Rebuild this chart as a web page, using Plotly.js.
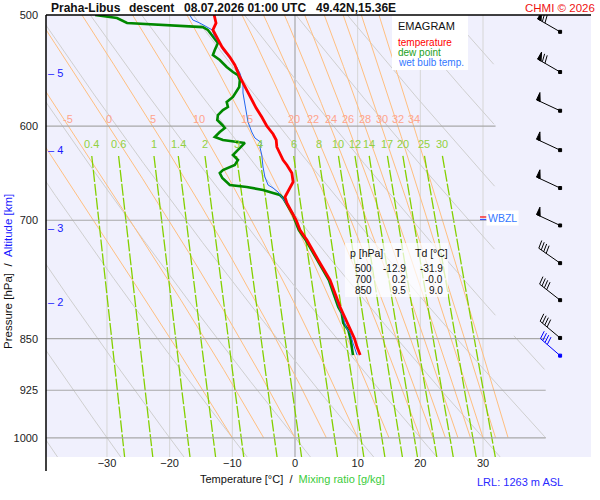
<!DOCTYPE html>
<html><head><meta charset="utf-8">
<script src="https://cdn.plot.ly/plotly-3.0.1.min.js"></script>
<style>html,body{margin:0;padding:0;background:#fff}</style>
</head><body><div id="chart" style="width:600px;height:500px"></div>
<script>
// ---------------- data ----------------
const tempP = [500, 506.6, 512.4, 518.4, 526.9, 535.6, 542.7, 553.5, 562.6, 571.9, 582.4, 591.0, 599.8, 607.7, 613.7, 620.8, 626.9, 634.2, 639.4, 647.8, 657.5, 664.0, 670.5, 673.8, 680.5, 691.7, 700, 711.3, 723.0, 747.1, 772.1, 807.0, 828.5, 847.7, 850, 861.8, 873.2];
const tempT = [-12.9, -12.6, -13.1, -12.45, -11.65, -10.4, -9.6, -8.8, -8.0, -7.2, -6.2, -5.3, -4.5, -3.5, -3.0, -2.9, -2.4, -1.9, -1.3, -0.5, -0.3, -0.8, -1.4, -1.6, -1.3, -0.5, 0.2, 0.8, 1.9, 3.7, 5.6, 7.2, 8.3, 9.3, 9.5, 9.9, 10.4];

const dewP = [500, 502.5, 506.6, 507.4, 508.3, 509.1, 510.0, 512.4, 518.4, 523.5, 529.5, 533.9, 538.3, 544.5, 549.0, 551.7, 556.2, 562.6, 571.9, 576.6, 581.4, 584.3, 589.1, 593.9, 598.8, 601.8, 605.7, 610.7, 613.7, 615.7, 616.7, 623.8, 629.0, 634.2, 639.4, 644.7, 647.8, 653.2, 660.7, 662.9, 666.1, 669.4, 671.6, 674.9, 685.0, 694.0, 700, 711.3, 723.0, 747.1, 772.1, 807.0, 815.0, 828.5, 838.0, 851.9, 866.0, 873.2];
const dewT = [-31.9, -28.4, -26.8, -24.3, -21.5, -17.9, -14.7, -13.9, -13.1, -12.3, -12.8, -13.1, -12.0, -10.9, -9.9, -9.1, -8.8, -8.9, -9.9, -10.9, -10.7, -11.5, -12.3, -12.4, -11.6, -11.2, -12.0, -12.8, -11.5, -9.3, -8.0, -9.1, -9.9, -9.1, -9.6, -11.5, -12.0, -11.6, -10.4, -7.7, -5.1, -3.5, -2.4, -1.9, -1.1, -0.3, 0.0, 0.6, 1.7, 3.5, 5.4, 6.9, 7.45, 7.7, 8.5, 8.9, 9.1, 9.25];

const wetP = [500, 504.1, 506.6, 510.0, 512.4, 518.4, 523.5, 529.5, 536.5, 544.5, 549.9, 559.0, 568.2, 577.6, 591.0, 595.8, 605.7, 611.7, 616.7, 620.8, 629.0, 641.5, 652.1, 660.7, 664.0, 668.3, 673.8, 685.0, 694.0, 700, 711.3, 723.0, 747.1, 772.1, 807.0, 820.4, 834.0, 842.2, 856.1, 873.2];
const wetT = [-16.8, -16.3, -15.2, -14.0, -13.2, -12.8, -12.0, -11.5, -10.4, -9.3, -8.8, -8.3, -8.3, -8.0, -7.7, -7.5, -6.9, -6.4, -5.3, -5.6, -5.3, -5.1, -4.8, -4.3, -3.5, -2.7, -2.1, -1.0, -0.2, 0.1, 0.7, 1.8, 3.6, 5.5, 7.0, 7.7, 8.1, 8.8, 9.25, 9.9];

const windP   = [514, 549, 585, 624, 664, 706, 751, 798, 849, 874];
const windDir = [300, 300, 295, 295, 295, 295, 305, 308, 310, 311];
const windSpd = [70, 70, 50, 50, 50, 50, 40, 40, 40, 40];

const tempTicks = [-30, -20, -10, 0, 10, 20, 30];
const pressureTicks = [500, 600, 700, 850, 925, 1000];
const isotherms = [-30, -20, -10, 0, 10, 20, 30];
const isobars = [600, 700, 850, 925, 1000];
const dryTheta = [-40, -30, -20, -10, 0, 10, 20, 30, 40, 50, 60, 70, 80, 90, 100];
const moistThetaW = [-10, -5, 0, 5, 10, 15, 20, 22, 24, 26, 28, 30, 32, 34];
const moistLabels = [-5, 0, 5, 10, 15, 20, 22, 24, 26, 28, 30, 32, 34];
const mixRatios = [0.4, 0.6, 1, 1.4, 2, 3, 4, 6, 8, 10, 12, 14, 17, 20, 25, 30];
const altKm = [5, 4, 3, 2];
const altP = [550, 624, 709, 800];
const tableP = [500, 700, 850];
const tableT = [-12.9, 0.2, 9.5];
const tableTd = [-31.9, -0.0, 9.0];
const wbzlP = 698;
const lrlM = 1263;

// ---------------- geometry / style ----------------
const W = 600, H = 500, ML = 46, MR = 9, MT = 15, MB = 43;
const plotW = W - ML - MR, plotH = H - MT - MB;
const px2x = px => (px - ML) / plotW;
const py2y = py => 1 - (py - MT) / plotH;
const pBottom = 1032, pTop = 500;
const xRange = [-39.73, 47.23];
const barbX = 42.3;
const FONT = 'Liberation Sans, Arial, sans-serif';

function limitT(p) { return p < 845 ? 32 : 40; }
function es(Tc) { return 6.112 * Math.exp(17.67 * Tc / (Tc + 243.5)); }
function rsat(p, Tc) { const e = es(Tc); return 0.622 * e / (p - e); }
function mixT(w, p) { const e = w * p / (622 + w); const Lg = Math.log(e / 6.112); return 243.5 * Lg / (17.67 - Lg); }
function dTdp(p, T) {
  const r = rsat(p, T - 273.15), Rd = 287.04, Lv = 2.501e6, cp = 1005.7;
  return (Rd * T + Lv * r) / (p * (cp + Lv * Lv * r * 0.622 / (Rd * T * T)));
}
function moistCurve(thw) {
  let T = thw + 273.15; const P = [], Ts = [];
  const h = -2;
  for (let p = 1000; p >= pTop - 0.01; p += h) {
    P.push(p); Ts.push(T - 273.15);
    const k1 = dTdp(p, T), k2 = dTdp(p + h / 2, T + h / 2 * k1), k3 = dTdp(p + h / 2, T + h / 2 * k2), k4 = dTdp(p + h, T + h * k3);
    T += h / 6 * (k1 + 2 * k2 + 2 * k3 + k4);
  }
  return {P, T: Ts};
}

function family(list) {
  const xs = [], ys = [];
  list.forEach(c => {
    for (let i = 0; i < c.P.length; i++) {
      const t = c.T[i];
      xs.push(t > limitT(c.P[i]) ? null : t); ys.push(c.P[i]);
    }
    xs.push(null); ys.push(null);
  });
  return {xs, ys};
}

const dryCurves = dryTheta.map(th => {
  const P = [], T = [];
  for (let p = pTop; p <= pBottom; p += 2) { P.push(p); T.push((th + 273.15) * Math.pow(p / 1000, 0.2857) - 273.15); }
  return {P, T};
});
const moistCurves = moistThetaW.map(moistCurve);
const mixTop = 630;
const mixCurves = mixRatios.map(w => {
  const P = [], T = [];
  for (let p = mixTop; p <= pBottom; p += 6) { P.push(p); T.push(mixT(w, p)); }
  P.push(pBottom); T.push(mixT(w, pBottom));
  return {P, T};
});
const isoCurves = isotherms.filter(t => t !== 0).map(t => ({P: [pTop, pBottom], T: [t, t]}));
const isobarCurves = isobars.map(p => ({P: [p, p], T: [-40, limitT(p)]}));

const fd = family(dryCurves), fm = family(moistCurves), fw = family(mixCurves), fi = family(isoCurves), fb = family(isobarCurves);
const line = (f, color, width, dash) => ({type: 'scatter', mode: 'lines', x: f.xs, y: f.ys, line: {color, width, dash: dash || 'solid'}, hoverinfo: 'skip', showlegend: false, connectgaps: false});

const traces = [
  line(fi, '#d6d6d6', 1),
  {type: 'scatter', mode: 'lines', x: [0, 0], y: [pTop, pBottom], line: {color: '#999999', width: 1}, hoverinfo: 'skip', showlegend: false},
  line(fd, '#cfcfcf', 1),
  line(fm, '#ffbf80', 1),
  line(fw, '#84d000', 1.3, '12px,2px'),
  line(fb, '#a8a8a8', 1.2),
  {type: 'scatter', mode: 'lines', x: dewT, y: dewP, line: {color: '#008800', width: 2.6}, hoverinfo: 'skip', showlegend: false},
  {type: 'scatter', mode: 'lines', x: wetT, y: wetP, line: {color: '#2266ee', width: 1}, hoverinfo: 'skip', showlegend: false},
  {type: 'scatter', mode: 'lines', x: tempT, y: tempP, line: {color: '#ff0000', width: 2.8}, hoverinfo: 'skip', showlegend: false}
];

// ---------------- annotations ----------------
const ann = [];
function A(o) { ann.push(Object.assign({showarrow: false, xref: 'paper', yref: 'paper', borderpad: 0, font: {family: FONT, size: 11, color: '#111'}}, o)); }

[['Praha-Libus', 50], ['descent', 128], ['08.07.2026 01:00 UTC', 183], ['49.42N,15.36E', 315]].forEach(([t, x]) =>
  A({text: '<b>' + t + '</b>', x: px2x(x), y: py2y(7.5), xanchor: 'left', yanchor: 'middle', font: {family: FONT, size: 12, color: '#111'}}));
A({text: 'CHMI © 2026', x: px2x(596), y: py2y(7.5), xanchor: 'right', yanchor: 'middle', font: {family: FONT, size: 11.5, color: '#ee1111'}});

A({text: 'Pressure [hPa]\u00a0\u00a0/\u00a0\u00a0<span style="color:#1a1aff">Altitude [km]</span>', textangle: -90, x: px2x(8), y: py2y(272), xanchor: 'center', yanchor: 'middle', font: {family: FONT, size: 11.5, color: '#111'}});
A({text: 'Temperature [°C]\u00a0\u00a0/\u00a0\u00a0<span style="color:#3ccc3c">Mixing ratio [g/kg]</span>', x: px2x(292), y: py2y(479), xanchor: 'center', yanchor: 'middle'});
A({text: 'LRL: ' + lrlM + ' m ASL', x: px2x(476), y: py2y(482), xanchor: 'left', yanchor: 'middle', font: {family: FONT, size: 11, color: '#2a2aff'}});

altKm.forEach((k, i) => A({text: '–\u00a0' + k, xref: 'paper', yref: 'y', x: px2x(47), y: Math.log10(altP[i]), xanchor: 'left', yanchor: 'middle', font: {family: FONT, size: 11, color: '#1a1aff'}}));

moistLabels.forEach(th => {
  const c = moistCurves[moistThetaW.indexOf(th)];
  const i = c.P.findIndex(p => Math.abs(p - 600) < 0.5);
  A({text: String(th), xref: 'x', yref: 'y', x: c.T[i], y: Math.log10(600), xanchor: 'center', yanchor: 'bottom', font: {family: FONT, size: 11, color: '#ffa48c'}});
});
mixRatios.forEach(w => A({text: String(w), xref: 'x', yref: 'y', x: mixT(w, mixTop), y: Math.log10(mixTop), xanchor: 'center', yanchor: 'bottom', yshift: 5, font: {family: FONT, size: 11, color: '#92d040'}}));

A({text: 'EMAGRAM', x: px2x(397), y: py2y(26), xanchor: 'left', yanchor: 'middle', font: {family: FONT, size: 11, color: '#111'}});
A({text: 'temperature', x: px2x(397), y: py2y(42.5), xanchor: 'left', yanchor: 'middle', font: {family: FONT, size: 10, color: '#ff0000'}});
A({text: 'dew point', x: px2x(397), y: py2y(52.5), xanchor: 'left', yanchor: 'middle', font: {family: FONT, size: 10, color: '#22a022'}});
A({text: 'wet bulb temp.', x: px2x(397), y: py2y(62.5), xanchor: 'left', yanchor: 'middle', font: {family: FONT, size: 10, color: '#3377ff'}});

const fmt = v => ((v < 0 || Object.is(v, -0)) ? '-' : '') + Math.abs(v).toFixed(1);
const tf = {family: FONT, size: 10.5, color: '#111'};
A({text: 'p [hPa]', x: px2x(349), y: py2y(253), xanchor: 'left', yanchor: 'middle', font: tf});
A({text: 'T', x: px2x(398), y: py2y(253), xanchor: 'center', yanchor: 'middle', font: tf});
A({text: 'Td [°C]', x: px2x(414), y: py2y(253), xanchor: 'left', yanchor: 'middle', font: tf});
const rf = {family: FONT, size: 10, color: '#111'};
tableP.forEach((p, i) => {
  const yy = py2y(268 + 11 * i);
  A({text: String(p), x: px2x(373), y: yy, xanchor: 'right', yanchor: 'middle', font: rf});
  A({text: fmt(tableT[i]), x: px2x(407), y: yy, xanchor: 'right', yanchor: 'middle', font: rf});
  A({text: fmt(tableTd[i]), x: px2x(444), y: yy, xanchor: 'right', yanchor: 'middle', font: rf});
});

A({text: 'WBZL', xref: 'x', yref: 'y', x: 30.5, y: Math.log10(wbzlP), xanchor: 'left', yanchor: 'middle', bgcolor: '#ffffff', borderpad: 1, font: {family: FONT, size: 10.5, color: '#3377ff'}});

// ---------------- shapes ----------------
const shapes = [];
shapes.push({type: 'rect', xref: 'paper', yref: 'paper', x0: px2x(392), x1: px2x(468), y0: py2y(70), y1: 1, fillcolor: '#ffffff', line: {width: 0}, layer: 'above'});
shapes.push({type: 'rect', xref: 'paper', yref: 'paper', x0: px2x(345), x1: px2x(448), y0: py2y(297), y1: py2y(243), fillcolor: 'rgba(255,255,255,0.72)', line: {width: 0}, layer: 'above'});
shapes.push({type: 'line', xref: 'paper', yref: 'paper', x0: 0, x1: 0, y0: py2y(471), y1: 1, line: {color: '#000', width: 1.5}, layer: 'above'});
shapes.push({type: 'line', xref: 'paper', yref: 'paper', x0: 0, x1: 1, y0: 1, y1: 1, line: {color: '#000', width: 1.5}, layer: 'above'});
shapes.push({type: 'path', xref: 'x', yref: 'y', xsizemode: 'pixel', ysizemode: 'pixel', xanchor: 30, yanchor: wbzlP, path: 'M-3,1.5 L3.5,1.5', line: {color: '#ff0000', width: 1.2}, layer: 'above'});
shapes.push({type: 'path', xref: 'x', yref: 'y', xsizemode: 'pixel', ysizemode: 'pixel', xanchor: 30, yanchor: wbzlP, path: 'M-3,-1 L3.5,-1', line: {color: '#3355ff', width: 1.2}, layer: 'above'});

function barbPath(dirDeg, spd) {
  const d = dirDeg * Math.PI / 180;
  const ux = Math.sin(d), uy = Math.cos(d), nx = uy, ny = -ux;
  const Ls = 26, f = v => v.toFixed(2);
  const P = s => [s * ux, s * uy];
  let path = 'M-1.5,-1.5 L1.5,-1.5 L1.5,1.5 L-1.5,1.5 Z M0,0 L' + f(Ls * ux) + ',' + f(Ls * uy);
  let s = Ls, rem = Math.round(spd / 5) * 5;
  while (rem >= 50) {
    const a = P(s), c = P(s - 4);
    path += ' M' + f(a[0]) + ',' + f(a[1]) + ' L' + f(a[0] + 8 * nx) + ',' + f(a[1] + 8 * ny) + ' L' + f(c[0]) + ',' + f(c[1]) + ' Z';
    s -= 5.5; rem -= 50;
  }
  while (rem >= 10) {
    const a = P(s);
    path += ' M' + f(a[0]) + ',' + f(a[1]) + ' L' + f(a[0] + 8 * nx + 2 * ux) + ',' + f(a[1] + 8 * ny + 2 * uy);
    s -= 3; rem -= 10;
  }
  if (rem >= 5) {
    const a = P(s);
    path += ' M' + f(a[0]) + ',' + f(a[1]) + ' L' + f(a[0] + 4 * nx + 1 * ux) + ',' + f(a[1] + 4 * ny + 1 * uy);
  }
  return path;
}
windP.forEach((p, i) => {
  const col = i === windP.length - 1 ? '#0000ff' : '#000000';
  shapes.push({type: 'path', xref: 'x', yref: 'y', xsizemode: 'pixel', ysizemode: 'pixel', xanchor: barbX, yanchor: p,
    path: barbPath(windDir[i], windSpd[i]), line: {color: col, width: 1}, fillcolor: col, layer: 'above'});
});

const layout = {
  width: W, height: H,
  margin: {l: ML, r: MR, t: MT, b: MB, pad: 0},
  paper_bgcolor: '#ffffff', plot_bgcolor: '#f0f0fd',
  font: {family: FONT, size: 11, color: '#222'},
  showlegend: false, hovermode: false,
  xaxis: {range: xRange, showgrid: false, zeroline: false, showline: false, tickvals: tempTicks, ticks: '', ticklabelstandoff: -2, tickfont: {family: FONT, size: 11, color: '#222'}, fixedrange: true},
  yaxis: {type: 'log', range: [Math.log10(pBottom), Math.log10(pTop)], showgrid: false, zeroline: false, showline: false, tickvals: pressureTicks, ticktext: pressureTicks.map(String), ticks: '', ticklabelstandoff: 7, tickfont: {family: FONT, size: 11, color: '#222'}, fixedrange: true},
  annotations: ann,
  shapes: shapes
};
Plotly.newPlot('chart', traces, layout, {displayModeBar: false, staticPlot: true});
</script></body></html>
